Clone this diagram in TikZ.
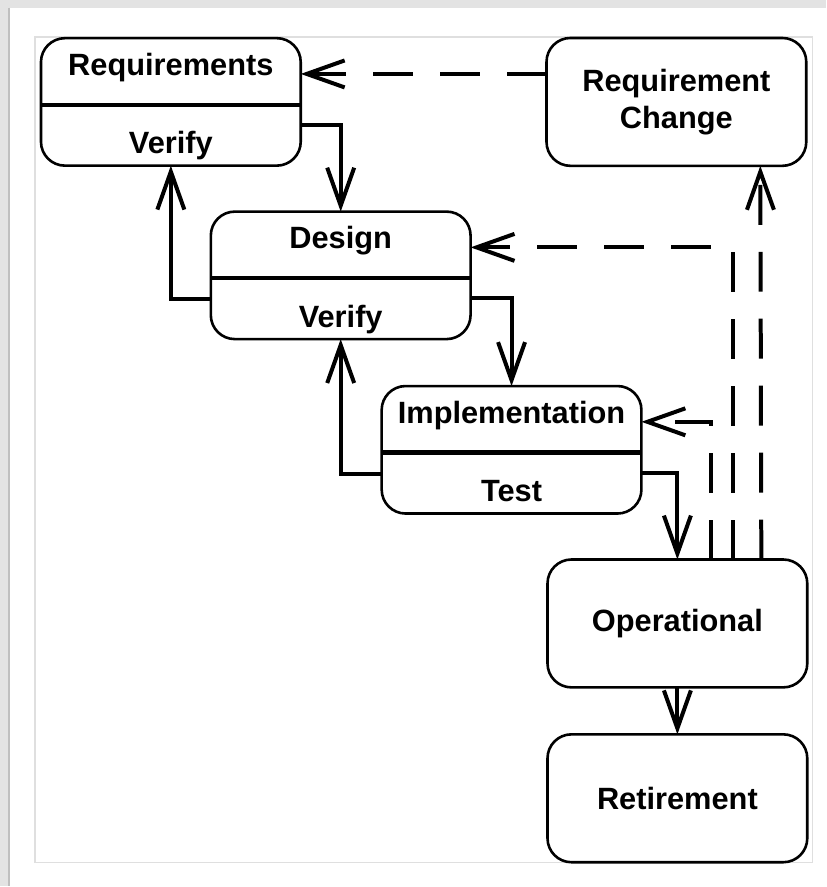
\documentclass[tikz,border=0pt]{standalone}
\usepackage{fontspec}
\setsansfont{Liberation Sans}
\usepackage{tikz}
\usetikzlibrary{positioning, arrows.meta, shapes.multipart}
\newcommand{\upstrut}{\rule[-14pt]{0pt}{32pt}}
\newcommand{\lowstrut}{\rule[-5.2pt]{0pt}{29.2pt}}
\tikzset{
  splitbox/.style={rectangle split, rectangle split parts=2,
                   rectangle split draw splits=false,
                   draw=black, line width=1.3pt, rounded corners=12pt,
                   fill=white, text width=120pt, inner xsep=5pt, inner ysep=0pt,
                   outer sep=0pt,
                   align=center, font=\sffamily\bfseries\fontsize{15.4}{18.5}\selectfont},
  stagebox/.style={rectangle, draw=black, line width=1.3pt, rounded corners=12pt,
                   fill=white, minimum width=130pt, minimum height=64pt,
                   outer sep=0pt,
                   align=center, font=\sffamily\bfseries\fontsize{15.4}{18.5}\selectfont},
  splitline/.style={line width=2.2pt, line cap=butt},
  myarr/.style={-{Straight Barb[length=19pt, width=13.5pt]}, line width=2pt},
  dasharr/.style={myarr, dash pattern=on 20pt off 13.5pt},
}
\begin{document}
\begin{tikzpicture}[x=0.5pt, y=-0.5pt]

  % page frame
  \fill[gray!22] (0,0) rectangle (827,887);
  \fill[white] (9,8) rectangle (827,887);
  \draw[gray!50, line width=0.8pt] (9,8) -- (9,887);
  \draw[gray!25, line width=0.6pt] (35,37) rectangle (813,863);
  \useasboundingbox (0,0) rectangle (827,887);

  \node[splitbox] at (171,102) (req)
    {\upstrut Requirements \nodepart{two} \lowstrut Verify};
  \node[splitbox, below right=23pt and -45pt of req] (design)
    {\upstrut Design \nodepart{two} \lowstrut Verify};
  \node[splitbox, below right=23.5pt and -44.5pt of design] (impl)
    {\upstrut Implementation \nodepart{two} \lowstrut Test};

  \node[stagebox, below right=23pt and -47pt of impl] (oper) {Operational};
  \node[stagebox, below=23.5pt of oper] (retire) {Retirement};
  \node[stagebox, right=123pt of req] (reqchg) {Requirement\\Change};

  \draw[splitline] (req.one split west)    -- (req.one split east);
  \draw[splitline] (design.one split west) -- (design.one split east);
  \draw[splitline] (impl.one split west)   -- (impl.one split east);

  \draw[myarr] ([yshift=-11.5pt]req.east)    -| (design.north);
  \draw[myarr] ([yshift=-12pt]design.west)   -| (req.south);
  \draw[myarr] ([yshift=-11.5pt]design.east) -| (impl.north);
  \draw[myarr] ([yshift=-12pt]impl.west)     -| (design.south);
  \draw[myarr] ([yshift=-11.5pt]impl.east)   -| (oper.north);
  \draw[myarr] (oper) -- (retire);

  \draw[dasharr] ([xshift=42pt]oper.north) -- ([xshift=42pt]reqchg.south);
  \draw[dasharr] ([xshift=28pt]oper.north) |- ([yshift=14pt]design.east);
  \draw[dasharr] ([xshift=17pt]oper.north) |- ([yshift=14pt]impl.east);
  \draw[dasharr] ([yshift=14pt]reqchg.west) -- ([yshift=14pt]req.east);

\end{tikzpicture}
\end{document}
